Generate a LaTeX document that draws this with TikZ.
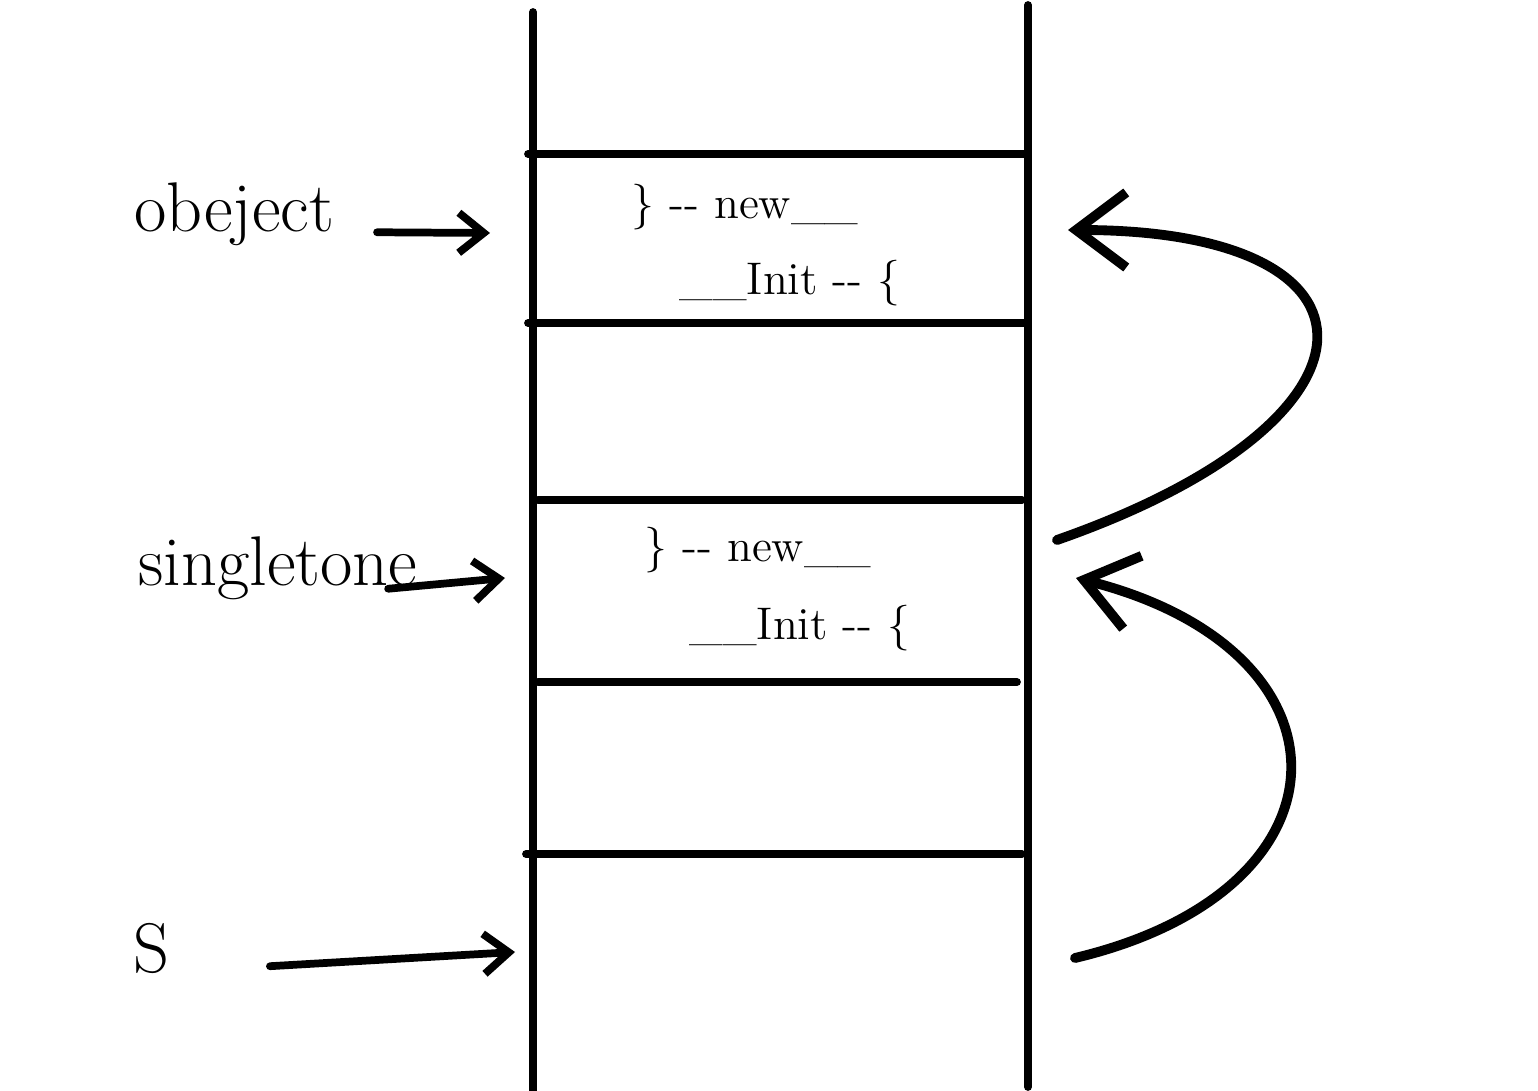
\documentclass[tikz,border=0pt]{standalone}
\usepackage{tikz}
\usetikzlibrary{arrows.meta,positioning}

\begin{document}
\begin{tikzpicture}[x=0.01cm,y=-0.01cm,
  wall/.style={line width=2.2pt,line cap=round},
  ptr/.style={-{Straight Barb[length=0.25cm,width=0.4cm]},line width=2.2pt,line cap=round},
  hook/.style={-{Straight Barb[length=0.5cm,width=0.75cm]},line width=2.8pt,line cap=round},
  lbl/.style={font=\fontsize{20}{24}\selectfont,inner sep=0pt},
  note/.style={font=\fontsize{13}{16}\selectfont}]
\useasboundingbox (0,0) rectangle (1538,1091);
% the stack: two walls and the cell borders
\draw[wall] (533,12) -- (533,1091);
\draw[wall] (1028,5) -- (1028,1087);
\foreach \y/\a/\b in {154/528/1024, 323/528/1024, 500/538/1022, 682/538/1017, 854/526/1022}
  \draw[wall] (\a,\y) -- (\b,\y);
% cell contents
\node[note] (new1) at (745,207) {\} -{}- new\_\_};
\node[note] (init1) at (790,283) {\_\_Init -{}- \{};
\node[note] (new2) at (758,550) {\} -{}- new\_\_};
\node[note] (init2) at (800,628) {\_\_Init -{}- \{};
% names on the left
\node[lbl,anchor=base east] (obj) at (335,232) {obeject};
\node[lbl,anchor=base east] (sgl) at (418,586) {singletone};
\node[lbl,anchor=base east] (s) at (170,972) {S};
\coordinate (objcell) at (490,233);
\coordinate (sglcell) at (505,578);
\coordinate (scell) at (515,952);
\draw[ptr,shorten <=0.42cm] (obj.base east) -- (objcell);
\draw[ptr,shorten <=-0.3cm] (sgl.base east) -- (sglcell);
\draw[ptr,shorten <=1cm] (s.base east) -- (scell);
% references on the right
\coordinate (sgltop) at (1057,540);
\coordinate (objtop) at (1068,230);
\coordinate (sbot) at (1075,958);
\coordinate (sgltip) at (1076,578);
\draw[hook] (sgltop) .. controls (1400,420) and (1400,230) .. (objtop);
\draw[hook] (sbot) .. controls (1361,890) and (1361,650) .. (sgltip);
\end{tikzpicture}
\end{document}
